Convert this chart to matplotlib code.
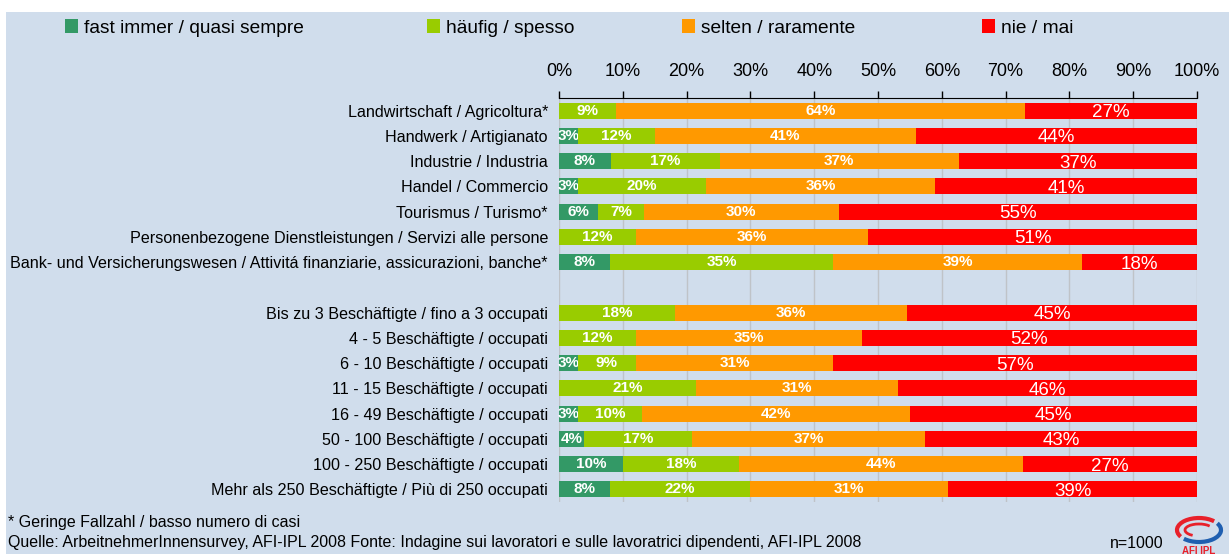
import numpy as np
import matplotlib.pyplot as plt
from matplotlib.patches import Rectangle, Arc

plt.rcParams['font.family'] = ['Liberation Sans', 'DejaVu Sans']

# categories (top to bottom); empty string marks the spacer row
categories = [
    'Landwirtschaft / Agricoltura*',
    'Handwerk / Artigianato',
    'Industrie / Industria',
    'Handel / Commercio',
    'Tourismus / Turismo*',
    'Personenbezogene Dienstleistungen / Servizi alle persone',
    'Bank- und Versicherungswesen / Attivitá finanziarie, assicurazioni, banche*',
    '',
    'Bis zu 3 Beschäftigte / fino a 3 occupati',
    '4 - 5 Beschäftigte / occupati',
    '6 - 10 Beschäftigte / occupati',
    '11 - 15 Beschäftigte / occupati',
    '16 - 49 Beschäftigte / occupati',
    '50 - 100 Beschäftigte / occupati',
    '100 - 250 Beschäftigte / occupati',
    'Mehr als 250 Beschäftigte / Più di 250 occupati',
]

series_names = ['fast immer / quasi sempre', 'häufig / spesso',
                'selten / raramente', 'nie / mai']

fast_immer = [0, 3, 8, 3, 6, 0, 8, 0, 0, 0, 3, 0, 3, 4, 10, 8]
haeufig = [9, 12, 17, 20, 7, 12, 35, 0, 18, 12, 9, 21, 10, 17, 18, 22]
selten = [64, 41, 37, 36, 30, 36, 39, 0, 36, 35, 31, 31, 42, 37, 44, 31]
nie = [27, 44, 37, 41, 55, 51, 18, 0, 45, 52, 57, 46, 45, 43, 27, 39]

colors = ['#339966', '#99CC00', '#FF9900', '#FF0000']

raw = np.array([fast_immer, haeufig, selten, nie], dtype=float)
tot = raw.sum(axis=0)
tot[tot == 0] = 1
share = raw / tot * 100  # 100% stacked

fig = plt.figure(figsize=(12.29, 5.54), dpi=100)
fig.patch.set_facecolor('white')
bg = '#D0DDEC'
fig.patches.append(Rectangle((6 / 1229, 0), 1, 1 - 12 / 554, transform=fig.transFigure,
                             facecolor=bg, edgecolor='none', zorder=-10))

ax = fig.add_axes([559 / 1229, 1 - 502 / 554, 638 / 1229, 404 / 554])
ax.set_facecolor(bg)

y = np.arange(len(categories))
left = np.zeros(len(categories))
handles = []
for i in range(4):
    bars = ax.barh(y, share[i], left=left, height=0.63, color=colors[i],
                   label=series_names[i], zorder=3)
    handles.append(bars)
    labels = [f'{int(v)}%' if v > 0 else '' for v in raw[i]]
    if i < 3:
        ax.bar_label(bars, labels=labels, label_type='center', color='white',
                     fontsize=11, fontweight='bold')
    else:
        txts = ax.bar_label(bars, labels=labels, label_type='center', color='white',
                            fontsize=13.5)
        for t in txts:
            t.set_va('center_baseline')
    left += share[i]

ax.set_xlim(0, 100)
ax.set_ylim(len(categories) - 0.5, -0.5)
ax.set_yticks(y)
ax.set_yticklabels(categories, fontsize=11.6)
ax.tick_params(axis='y', length=0, pad=8)
ax.xaxis.tick_top()
ax.set_xticks(np.arange(0, 101, 10))
ax.set_xticklabels([f'{t}%' for t in range(0, 101, 10)], fontsize=13)
ax.tick_params(axis='x', direction='out', length=5, width=1, pad=8, color='black')
ax.grid(axis='x', color='#BFC3C8', linewidth=1, zorder=0)
for s in ['bottom', 'left', 'right']:
    ax.spines[s].set_visible(False)
ax.spines['top'].set_color('black')

# legend entries placed individually as in the original
leg_x = [65, 427, 682, 982]
for h, lx in zip(handles, leg_x):
    fig.legend(handles=[h], loc='center left', bbox_to_anchor=(lx / 1229, 1 - 28 / 554),
               frameon=False, fontsize=13.8, handlelength=0.7, handleheight=0.7,
               handletextpad=0.3, borderaxespad=0, borderpad=0)

fig.text(8 / 1229, 1 - 523 / 554, '* Geringe Fallzahl / basso numero di casi',
         fontsize=11.5, va='center', ha='left')
fig.text(8 / 1229, 1 - 543 / 554,
         'Quelle: ArbeitnehmerInnensurvey, AFI-IPL 2008 Fonte: Indagine sui lavoratori e sulle lavoratrici dipendenti, AFI-IPL 2008',
         fontsize=11.5, va='center', ha='left')
fig.text(1164 / 1229, 1 - 543 / 554, 'n=1000', fontsize=11.5, va='center', ha='right')

# small logo
lax = fig.add_axes([1172 / 1229, 0, 52 / 1229, 40 / 554])
lax.set_xlim(0, 52)
lax.set_ylim(0, 40)
lax.axis('off')
lax.add_patch(Arc((27, 24), 44, 24, theta1=30, theta2=200, color='#E8202A', lw=3))
lax.add_patch(Arc((27, 24), 44, 24, theta1=210, theta2=380, color='#1F5FB0', lw=3))
lax.add_patch(Arc((27, 24), 28, 12, theta1=20, theta2=220, color='#E8202A', lw=2))
lax.text(27, 3, 'AFI IPL', color='#E8202A', fontsize=7, fontweight='bold',
         ha='center', va='center')

fig.savefig('out.png', dpi=100, facecolor=fig.get_facecolor())
